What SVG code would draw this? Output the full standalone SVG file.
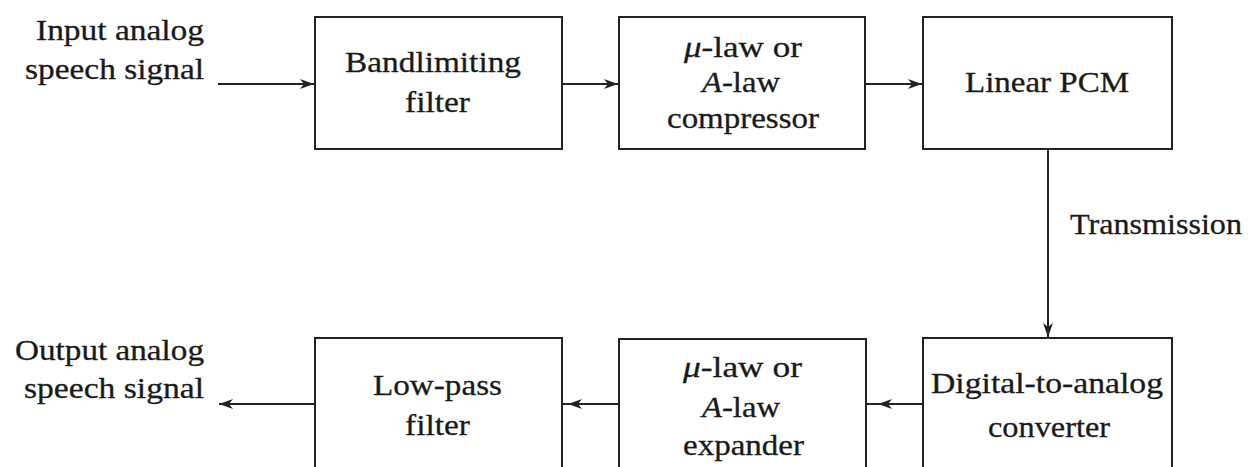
<svg xmlns="http://www.w3.org/2000/svg" width="1257" height="467" viewBox="0 0 1257 467">
<style>
.box{fill:#fff;stroke:#222;stroke-width:2}
.t{font-family:"Liberation Serif","Times New Roman",serif;font-size:29px;fill:#1a1a1a;stroke:#1a1a1a;stroke-width:0.3}
.c{fill:none;stroke:#222;stroke-width:2}
.i{font-style:italic}
</style>
<defs>
<marker id="ah" markerUnits="userSpaceOnUse" markerWidth="16" markerHeight="14" refX="14" refY="7" orient="auto">
<path d="M0,2 L14,7 L0,12 L4,7 Z" fill="#222"/>
</marker>
</defs>
<rect width="1257" height="467" fill="#fff"/>
<g id="connectors">
<path class="c" d="M218,84 H314" marker-end="url(#ah)"/>
<path class="c" d="M562,84 H618" marker-end="url(#ah)"/>
<path class="c" d="M865,84 H922" marker-end="url(#ah)"/>
<path class="c" d="M1048,149 V337" marker-end="url(#ah)"/>
<path class="c" d="M923,404 H878 H866" marker-mid="url(#ah)"/>
<path class="c" d="M619,404 H568 H562" marker-mid="url(#ah)"/>
<path class="c" d="M315,404 H219" marker-end="url(#ah)"/>
</g>
<g id="input-label">
<text class="t" x="36" y="40" textLength="168" lengthAdjust="spacingAndGlyphs">Input analog</text>
<text class="t" x="25" y="79" textLength="179" lengthAdjust="spacingAndGlyphs">speech signal</text>
</g>
<g id="bandlimiting-filter">
<rect class="box" x="315" y="17" width="247" height="132"/>
<text class="t" x="345" y="72" textLength="176" lengthAdjust="spacingAndGlyphs">Bandlimiting</text>
<text class="t" x="405" y="112" textLength="65" lengthAdjust="spacingAndGlyphs">filter</text>
</g>
<g id="compressor">
<rect class="box" x="619" y="17" width="246" height="132"/>
<text class="t" x="684" y="57" textLength="118" lengthAdjust="spacingAndGlyphs"><tspan class="i">μ</tspan>-law or</text>
<text class="t" x="702" y="92" textLength="78" lengthAdjust="spacingAndGlyphs"><tspan class="i">A</tspan>-law</text>
<text class="t" x="667" y="128" textLength="152" lengthAdjust="spacingAndGlyphs">compressor</text>
</g>
<g id="linear-pcm">
<rect class="box" x="923" y="17" width="249" height="132"/>
<text class="t" x="965" y="92" textLength="164" lengthAdjust="spacingAndGlyphs">Linear PCM</text>
</g>
<g id="transmission-label">
<text class="t" x="1070" y="234" textLength="172" lengthAdjust="spacingAndGlyphs">Transmission</text>
</g>
<g id="dac">
<rect class="box" x="923" y="338" width="249" height="140"/>
<text class="t" x="931" y="393" textLength="232" lengthAdjust="spacingAndGlyphs">Digital-to-analog</text>
<text class="t" x="988" y="437" textLength="122" lengthAdjust="spacingAndGlyphs">converter</text>
</g>
<g id="expander">
<rect class="box" x="619" y="339" width="247" height="140"/>
<text class="t" x="683" y="377" textLength="119" lengthAdjust="spacingAndGlyphs"><tspan class="i">μ</tspan>-law or</text>
<text class="t" x="702" y="417" textLength="78" lengthAdjust="spacingAndGlyphs"><tspan class="i">A</tspan>-law</text>
<text class="t" x="683" y="455" textLength="121" lengthAdjust="spacingAndGlyphs">expander</text>
</g>
<g id="low-pass-filter">
<rect class="box" x="315" y="338" width="247" height="140"/>
<text class="t" x="373" y="395" textLength="129" lengthAdjust="spacingAndGlyphs">Low-pass</text>
<text class="t" x="405" y="435" textLength="65" lengthAdjust="spacingAndGlyphs">filter</text>
</g>
<g id="output-label">
<text class="t" x="15" y="360" textLength="189" lengthAdjust="spacingAndGlyphs">Output analog</text>
<text class="t" x="24" y="398" textLength="180" lengthAdjust="spacingAndGlyphs">speech signal</text>
</g>
</svg>
